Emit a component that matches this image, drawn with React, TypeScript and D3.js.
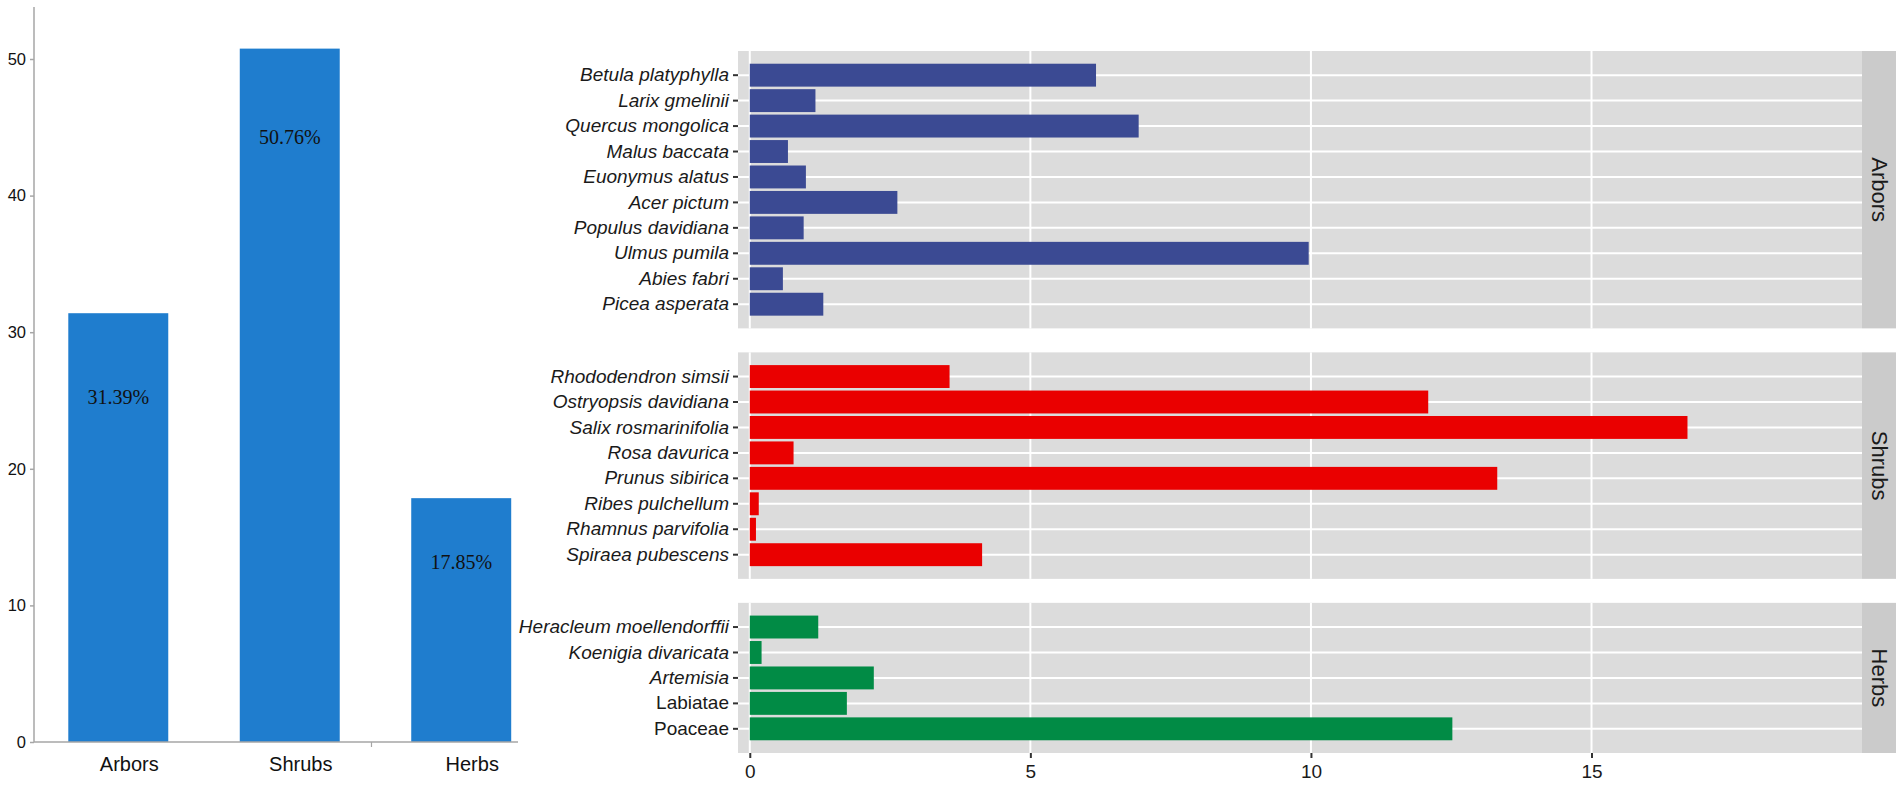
import * as d3 from 'd3';
import React, { useEffect, useRef } from 'react';

// left chart: share of each life form (%)
const groups = ['Arbors', 'Shrubs', 'Herbs'];
const groupShares = [31.39, 50.76, 17.85];
const shareTicks = [0, 10, 20, 30, 40, 50];

// right chart: species values per life form
const arborSpecies = [
  'Betula platyphylla',
  'Larix gmelinii',
  'Quercus mongolica',
  'Malus baccata',
  'Euonymus alatus',
  'Acer pictum',
  'Populus davidiana',
  'Ulmus pumila',
  'Abies fabri',
  'Picea asperata',
];
const arborValues = [6.17, 1.17, 6.93, 0.68, 1.0, 2.63, 0.96, 9.96, 0.59, 1.31];

const shrubSpecies = [
  'Rhododendron simsii',
  'Ostryopsis davidiana',
  'Salix rosmarinifolia',
  'Rosa davurica',
  'Prunus sibirica',
  'Ribes pulchellum',
  'Rhamnus parvifolia',
  'Spiraea pubescens',
];
const shrubValues = [3.56, 12.09, 16.71, 0.78, 13.32, 0.16, 0.11, 4.14];

const herbSpecies = [
  'Heracleum moellendorffii',
  'Koenigia divaricata',
  'Artemisia',
  'Labiatae',
  'Poaceae',
];
const herbValues = [1.22, 0.21, 2.21, 1.73, 12.52];

const valueTicks = [0, 5, 10, 15];
const plainNames = ['Labiatae', 'Poaceae'];

const W = 1902;
const H = 787;
const sans = '"Liberation Sans", Arial, Helvetica, sans-serif';
const serif = '"Liberation Serif", "Times New Roman", serif';

export default function App() {
  const svgRef = useRef<SVGSVGElement | null>(null);

  useEffect(() => {
    if (!svgRef.current) return;
    const svg = d3.select(svgRef.current);
    svg.selectAll('*').remove();

    // ---------- left bar chart ----------
    const axisGray = '#a6a6a6';
    const y = d3.scaleLinear().domain([0, 50]).range([742, 59]);
    const x = d3
      .scaleBand()
      .domain(groups)
      .range([34, 545.5])
      .paddingInner(0.417)
      .paddingOuter(0.2);

    const left = svg.append('g');
    const shares = groups.map((g, i) => ({ label: g, value: groupShares[i] }));

    left
      .selectAll('rect')
      .data(shares)
      .join('rect')
      .attr('x', (d) => x(d.label)!)
      .attr('y', (d) => y(d.value))
      .attr('width', x.bandwidth())
      .attr('height', (d) => y(0) - y(d.value))
      .attr('fill', '#1f7dce');

    // label drop below the bar top, px
    const labelDrop = [91, 95, 71];
    left
      .selectAll('text.pct')
      .data(shares)
      .join('text')
      .attr('class', 'pct')
      .attr('x', (d) => x(d.label)! + x.bandwidth() / 2)
      .attr('y', (d, i) => y(d.value) + labelDrop[i])
      .attr('text-anchor', 'middle')
      .style('font-family', serif)
      .style('font-size', '20px')
      .style('fill', '#111')
      .text((d) => `${d.value.toFixed(2)}%`);

    const yAxis = left
      .append('g')
      .attr('transform', 'translate(34,0)')
      .call(d3.axisLeft(y).tickValues(shareTicks).tickSize(4).tickPadding(4).tickSizeOuter(0));
    yAxis.select('.domain').remove();
    yAxis.selectAll('.tick line').attr('stroke', axisGray).attr('stroke-width', 1.5);
    yAxis
      .selectAll('text')
      .style('font-family', sans)
      .style('font-size', '16.5px')
      .style('fill', '#111');

    left
      .append('line')
      .attr('x1', 34)
      .attr('x2', 34)
      .attr('y1', 7)
      .attr('y2', y(0))
      .attr('stroke', axisGray)
      .attr('stroke-width', 1.5);
    left
      .append('line')
      .attr('x1', 34)
      .attr('x2', 518)
      .attr('y1', y(0))
      .attr('y2', y(0))
      .attr('stroke', axisGray)
      .attr('stroke-width', 1.5);

    // the lone category tick between Shrubs and Herbs
    const sepX = (x('Shrubs')! + x.bandwidth() + x('Herbs')!) / 2 - 4;
    left
      .append('line')
      .attr('x1', sepX)
      .attr('x2', sepX)
      .attr('y1', y(0))
      .attr('y2', y(0) + 5)
      .attr('stroke', axisGray)
      .attr('stroke-width', 1.2);

    left
      .selectAll('text.cat')
      .data(groups)
      .join('text')
      .attr('class', 'cat')
      .attr('x', (d) => x(d)! + x.bandwidth() / 2 + 11)
      .attr('y', 771)
      .attr('text-anchor', 'middle')
      .style('font-family', sans)
      .style('font-size', '20px')
      .style('fill', '#111')
      .text((d) => d);

    // ---------- right faceted chart ----------
    const panels = [
      { name: 'Arbors', species: arborSpecies, values: arborValues, color: '#3b4a93' },
      { name: 'Shrubs', species: shrubSpecies, values: shrubValues, color: '#ea0000' },
      { name: 'Herbs', species: herbSpecies, values: herbValues, color: '#018b45' },
    ];

    const panelLeft = 738;
    const panelRight = 1862;
    const stripW = 34;
    const top = 51;
    const bottom = 753;
    const gap = 24;
    const units = d3.sum(panels, (p) => p.species.length + 0.9);
    const step = (bottom - top - gap * (panels.length - 1)) / units;

    const xv = d3.scaleLinear().domain([-0.21, 19.82]).range([panelLeft, panelRight]);

    let cursor = top;
    panels.forEach((p) => {
      const h = step * (p.species.length + 0.9);
      const band = d3
        .scaleBand()
        .domain(p.species)
        .range([cursor, cursor + h])
        .paddingInner(0.1)
        .paddingOuter(0.5);

      const g = svg.append('g');
      g.append('rect')
        .attr('x', panelLeft)
        .attr('y', cursor)
        .attr('width', panelRight - panelLeft)
        .attr('height', h)
        .attr('fill', '#dcdcdc');

      g.selectAll('line.vgrid')
        .data(valueTicks)
        .join('line')
        .attr('class', 'vgrid')
        .attr('x1', (d) => xv(d))
        .attr('x2', (d) => xv(d))
        .attr('y1', cursor)
        .attr('y2', cursor + h)
        .attr('stroke', '#fff')
        .attr('stroke-width', 2);

      g.selectAll('line.hgrid')
        .data(p.species)
        .join('line')
        .attr('class', 'hgrid')
        .attr('x1', panelLeft)
        .attr('x2', panelRight)
        .attr('y1', (d) => band(d)! + band.bandwidth() / 2)
        .attr('y2', (d) => band(d)! + band.bandwidth() / 2)
        .attr('stroke', '#fff')
        .attr('stroke-width', 2);

      g.selectAll('rect.bar')
        .data(p.species.map((s, i) => ({ label: s, value: p.values[i] })))
        .join('rect')
        .attr('class', 'bar')
        .attr('x', xv(0))
        .attr('y', (d) => band(d.label)!)
        .attr('width', (d) => xv(d.value) - xv(0))
        .attr('height', band.bandwidth())
        .attr('fill', p.color);

      const ax = g
        .append('g')
        .attr('transform', `translate(${panelLeft},0)`)
        .call(d3.axisLeft(band).tickSize(5).tickPadding(4).tickSizeOuter(0));
      ax.select('.domain').remove();
      ax.selectAll('.tick line').attr('stroke', '#333').attr('stroke-width', 2);
      ax.selectAll<SVGTextElement, string>('text')
        .style('font-family', sans)
        .style('font-size', '19px')
        .style('fill', '#1a1a1a')
        .style('font-style', (d) => (plainNames.includes(d) ? 'normal' : 'italic'));

      g.append('rect')
        .attr('x', panelRight)
        .attr('y', cursor)
        .attr('width', stripW)
        .attr('height', h)
        .attr('fill', '#cbcbcb');
      g.append('text')
        .attr('transform', `translate(${panelRight + stripW / 2},${cursor + h / 2}) rotate(90)`)
        .attr('text-anchor', 'middle')
        .attr('dominant-baseline', 'central')
        .style('font-family', sans)
        .style('font-size', '22px')
        .style('fill', '#1a1a1a')
        .text(p.name);

      cursor += h + gap;
    });

    const xAxis = svg
      .append('g')
      .attr('transform', `translate(0,${bottom})`)
      .call(d3.axisBottom(xv).tickValues(valueTicks).tickSize(5).tickPadding(6.5).tickSizeOuter(0));
    xAxis.select('.domain').remove();
    xAxis.selectAll('.tick line').attr('stroke', '#333').attr('stroke-width', 2);
    xAxis
      .selectAll('text')
      .style('font-family', sans)
      .style('font-size', '19px')
      .style('fill', '#1a1a1a');
  }, []);

  return (
    <svg
      ref={svgRef}
      width={W}
      height={H}
      style={{ position: 'absolute', left: 0, top: 0, background: '#fff' }}
    ></svg>
  );
}
